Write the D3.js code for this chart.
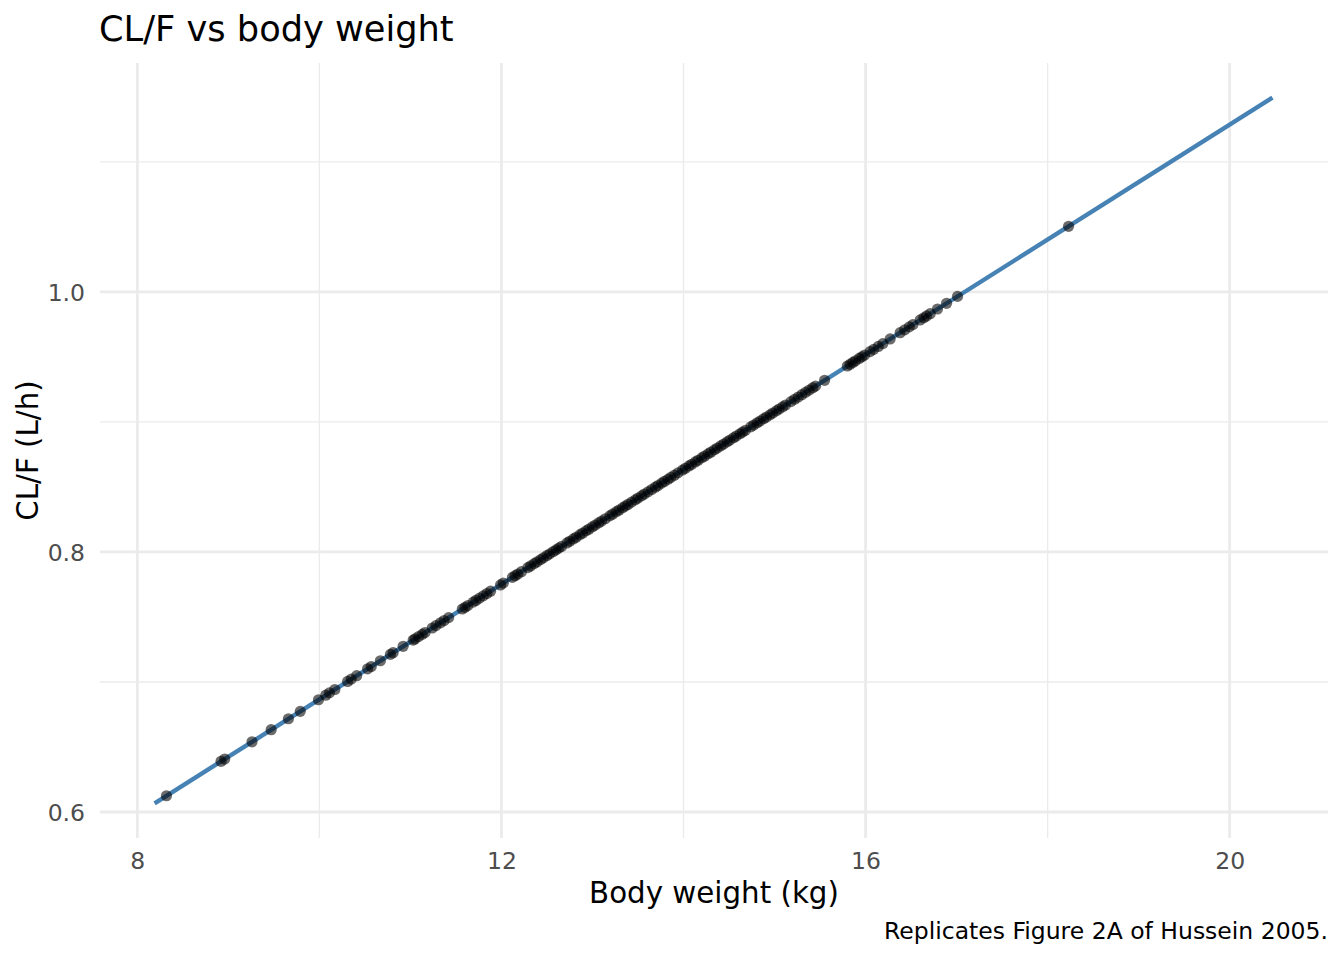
<!DOCTYPE html>
<html>
<head>
<meta charset="utf-8">
<script src="https://cdn.jsdelivr.net/npm/d3@7"></script>
<style>
  body { margin: 0; background: #fff; }
  text { font-family: "DejaVu Sans", sans-serif; }
</style>
</head>
<body>
<div id="chart"></div>
<script>
// body weight (kg) of each subject
const weights = [
    8.32, 8.92, 8.96, 9.26, 9.47, 9.66, 9.79, 9.99, 10.07, 10.11, 10.17, 10.31, 10.35, 10.41,
    10.53, 10.57, 10.67, 10.78, 10.81, 10.92, 11.03, 11.05, 11.09, 11.13, 11.16, 11.24, 11.28,
    11.33, 11.37, 11.42, 11.57, 11.60, 11.63, 11.69, 11.72, 11.76, 11.80, 11.84, 11.88, 11.99,
    12.02, 12.12, 12.15, 12.18, 12.22, 12.29, 12.32, 12.36, 12.39, 12.43, 12.46, 12.50, 12.53,
    12.57, 12.60, 12.63, 12.66, 12.72, 12.75, 12.79, 12.82, 12.86, 12.89, 12.93, 12.96, 13.00,
    13.03, 13.07, 13.10, 13.14, 13.19, 13.22, 13.26, 13.29, 13.33, 13.36, 13.39, 13.43, 13.47,
    13.50, 13.54, 13.57, 13.61, 13.65, 13.69, 13.72, 13.76, 13.79, 13.83, 13.86, 13.90, 13.94,
    13.99, 14.02, 14.06, 14.09, 14.13, 14.16, 14.20, 14.23, 14.27, 14.30, 14.34, 14.37, 14.41,
    14.44, 14.48, 14.51, 14.55, 14.58, 14.62, 14.65, 14.68, 14.74, 14.77, 14.81, 14.84, 14.88,
    14.91, 14.95, 14.98, 15.02, 15.05, 15.09, 15.12, 15.18, 15.22, 15.26, 15.30, 15.34, 15.38,
    15.42, 15.45, 15.55, 15.80, 15.83, 15.86, 15.89, 15.93, 15.96, 15.99, 16.05, 16.09, 16.14,
    16.19, 16.27, 16.38, 16.43, 16.48, 16.52, 16.60, 16.64, 16.67, 16.71, 16.79, 16.89, 17.01,
    18.23
];

// individual CL/F (L/h), same order as weights
const clearances = [
    0.6125, 0.6390, 0.6407, 0.6540, 0.6633, 0.6717, 0.6774, 0.6863, 0.6898, 0.6916, 0.6942, 0.7004, 0.7022, 0.7048,
    0.7101, 0.7119, 0.7163, 0.7212, 0.7225, 0.7274, 0.7322, 0.7331, 0.7349, 0.7366, 0.7380, 0.7415, 0.7433,
    0.7455, 0.7472, 0.7495, 0.7561, 0.7574, 0.7587, 0.7614, 0.7627, 0.7645, 0.7662, 0.7680, 0.7698, 0.7746,
    0.7760, 0.7804, 0.7817, 0.7830, 0.7848, 0.7879, 0.7892, 0.7910, 0.7923, 0.7941, 0.7954, 0.7972, 0.7985,
    0.8003, 0.8016, 0.8029, 0.8042, 0.8069, 0.8082, 0.8100, 0.8113, 0.8131, 0.8144, 0.8162, 0.8175, 0.8193,
    0.8206, 0.8224, 0.8237, 0.8255, 0.8277, 0.8290, 0.8308, 0.8321, 0.8339, 0.8352, 0.8365, 0.8383, 0.8400,
    0.8414, 0.8431, 0.8445, 0.8462, 0.8480, 0.8498, 0.8511, 0.8529, 0.8542, 0.8559, 0.8573, 0.8590, 0.8608,
    0.8630, 0.8643, 0.8661, 0.8674, 0.8692, 0.8705, 0.8723, 0.8736, 0.8754, 0.8767, 0.8785, 0.8798, 0.8816,
    0.8829, 0.8847, 0.8860, 0.8878, 0.8891, 0.8909, 0.8922, 0.8935, 0.8962, 0.8975, 0.8993, 0.9006, 0.9024,
    0.9037, 0.9054, 0.9068, 0.9085, 0.9099, 0.9116, 0.9130, 0.9156, 0.9174, 0.9191, 0.9209, 0.9227, 0.9244,
    0.9262, 0.9275, 0.9320, 0.9430, 0.9443, 0.9457, 0.9470, 0.9488, 0.9501, 0.9514, 0.9541, 0.9558, 0.9580,
    0.9602, 0.9638, 0.9686, 0.9708, 0.9731, 0.9748, 0.9784, 0.9801, 0.9815, 0.9832, 0.9868, 0.9912, 0.9965,
    1.0504
];

// typical value curve
const curveWeights = [8.19, 20.47];
const curveClearances = [0.6067, 1.1494];

const xTicks = [8, 12, 16, 20];
const xMinor = [10, 14, 18];
const yTicks = [0.6, 0.8, 1.0];
const yMinor = [0.7, 0.9, 1.1];

const width = 1344;
const height = 960;
const panel = { left: 100, right: 1328, top: 63, bottom: 838 };

const svg = d3.select("#chart").append("svg")
    .attr("width", width)
    .attr("height", height)
    .attr("viewBox", [0, 0, width, height]);

const xScale = d3.scaleLinear([7.59, 21.08], [panel.left, panel.right]);
const yScale = d3.scaleLinear([0.58, 1.176], [panel.bottom, panel.top]);

// grid
const grid = svg.append("g");
grid.selectAll(".xminor").data(xMinor).join("line")
    .attr("x1", d => xScale(d)).attr("x2", d => xScale(d))
    .attr("y1", panel.top).attr("y2", panel.bottom)
    .attr("stroke", "#ebebeb").attr("stroke-width", 1.4);
grid.selectAll(".yminor").data(yMinor).join("line")
    .attr("y1", d => yScale(d)).attr("y2", d => yScale(d))
    .attr("x1", panel.left).attr("x2", panel.right)
    .attr("stroke", "#ebebeb").attr("stroke-width", 1.4);
grid.selectAll(".xmajor").data(xTicks).join("line")
    .attr("x1", d => xScale(d)).attr("x2", d => xScale(d))
    .attr("y1", panel.top).attr("y2", panel.bottom)
    .attr("stroke", "#ebebeb").attr("stroke-width", 2.8);
grid.selectAll(".ymajor").data(yTicks).join("line")
    .attr("y1", d => yScale(d)).attr("y2", d => yScale(d))
    .attr("x1", panel.left).attr("x2", panel.right)
    .attr("stroke", "#ebebeb").attr("stroke-width", 2.8);

// axes (labels only, theme_minimal has no axis lines)
const xAxis = svg.append("g")
    .attr("transform", `translate(0, ${panel.bottom})`)
    .call(d3.axisBottom(xScale).tickValues(xTicks).tickSize(0).tickFormat(d3.format("d")));
const yAxis = svg.append("g")
    .attr("transform", `translate(${panel.left}, 0)`)
    .call(d3.axisLeft(yScale).tickValues(yTicks).tickSize(0).tickPadding(15).tickFormat(d3.format(".1f")));
[xAxis, yAxis].forEach(ax => {
    ax.select(".domain").remove();
    ax.selectAll("text")
        .attr("font-family", "DejaVu Sans")
        .attr("font-size", 23.5)
        .attr("fill", "#4d4d4d");
});
xAxis.selectAll("text").attr("dy", null).attr("y", 31);
yAxis.selectAll("text").attr("dy", "0.36em");

// line then points
const lineGen = d3.line()
    .x(d => xScale(d.wt))
    .y(d => yScale(d.cl));
const curve = curveWeights.map((w, i) => ({ wt: w, cl: curveClearances[i] }));

svg.append("path")
    .attr("fill", "none")
    .attr("stroke", "steelblue")
    .attr("stroke-width", 4.4)
    .attr("d", lineGen(curve));

const points = weights.map((w, i) => ({ wt: w, cl: clearances[i] }));
svg.append("g").selectAll("circle").data(points).join("circle")
    .attr("cx", d => xScale(d.wt))
    .attr("cy", d => yScale(d.cl))
    .attr("r", 5.6)
    .attr("fill", "#000")
    .attr("fill-opacity", 0.58);

// text
svg.append("text")
    .attr("x", 99).attr("y", 41)
    .attr("font-size", 35.2)
    .attr("fill", "#000")
    .text("CL/F vs body weight");

svg.append("text")
    .attr("x", (panel.left + panel.right) / 2).attr("y", 903)
    .attr("text-anchor", "middle")
    .attr("font-size", 29.3)
    .text("Body weight (kg)");

svg.append("text")
    .attr("transform", `translate(38, ${(panel.top + panel.bottom) / 2}) rotate(-90)`)
    .attr("text-anchor", "middle")
    .attr("font-size", 29.3)
    .text("CL/F (L/h)");

svg.append("text")
    .attr("x", 1328).attr("y", 939)
    .attr("text-anchor", "end")
    .attr("font-size", 23.5)
    .text("Replicates Figure 2A of Hussein 2005.");
</script>
</body>
</html>
